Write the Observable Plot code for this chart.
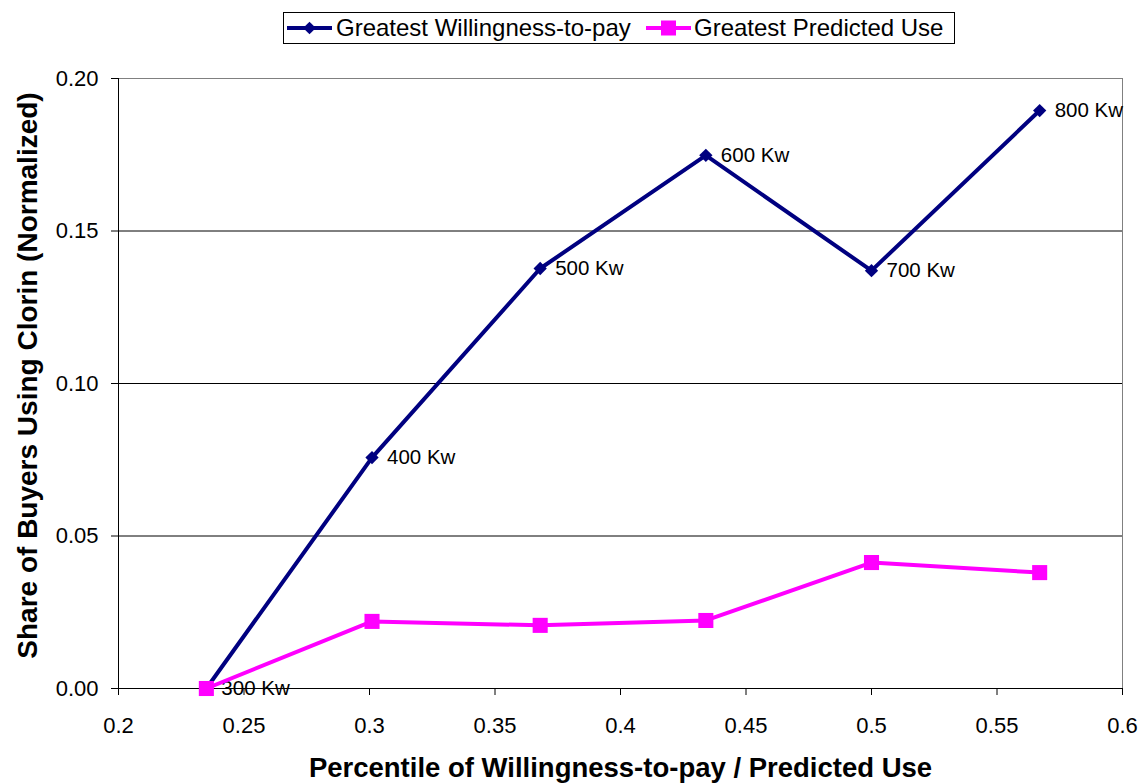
<!DOCTYPE html>
<html><head><meta charset="utf-8">
<script src="https://cdn.jsdelivr.net/npm/d3@7"></script>
<script src="https://cdn.jsdelivr.net/npm/@observablehq/plot@0.6"></script>
<style>
body{margin:0;background:#fff;font-family:"Liberation Sans",Arial,sans-serif;}
#legend{height:47px;position:relative;}
#legend .box{position:absolute;left:283px;top:12px;width:672px;height:32px;border:1px solid #000;box-sizing:border-box;font-size:24px;color:#000;white-space:nowrap;}
#legend .sw{position:absolute;top:3px;}
#legend .lab{position:absolute;top:0px;line-height:30px;}
</style></head>
<body>
<div id="legend"></div>
<div id="chart"></div>
<script>
const xVals = [0.235, 0.301, 0.368, 0.434, 0.5, 0.567];
const wtpVals = [0, 0.0757, 0.1377, 0.1748, 0.137, 0.1895];
const useVals = [0, 0.022, 0.0207, 0.0223, 0.0413, 0.038];
const kwLabels = ["300 Kw", "400 Kw", "500 Kw", "600 Kw", "700 Kw", "800 Kw"];
const seriesNames = ["Greatest Willingness-to-pay", "Greatest Predicted Use"];
const seriesColors = ["#000080", "#ff00ff"];
const xTicks = [0.2, 0.25, 0.3, 0.35, 0.4, 0.45, 0.5, 0.55, 0.6];
const yTicks = [0, 0.05, 0.1, 0.15, 0.2];
const xTitle = ["Percentile of Willingness-to-pay / Predicted Use"];
const yTitle = ["Share of Buyers Using Clorin (Normalized)"];

const dW = xVals.map((x, i) => ({x, y: wtpVals[i], label: kwLabels[i]}));
const dU = xVals.map((x, i) => ({x, y: useVals[i]}));

// legend
const box = document.createElement("div");
box.className = "box";
const swLeft = [3, 362], labLeft = [52, 410];
seriesNames.forEach((name, i) => {
  const marker = i === 0
    ? `<rect x="18" y="7.5" width="9" height="9" fill="${seriesColors[0]}" transform="rotate(45 22.5 12)"/>`
    : `<rect x="15" y="4.5" width="15" height="15" fill="${seriesColors[1]}"/>`;
  const sw = document.createElement("div");
  sw.className = "sw";
  sw.style.left = swLeft[i] + "px";
  sw.innerHTML = `<svg width="45" height="24"><line x1="0" x2="45" y1="12" y2="12" stroke="${seriesColors[i]}" stroke-width="4"/>${marker}</svg>`;
  const lab = document.createElement("div");
  lab.className = "lab";
  lab.style.left = labLeft[i] + "px";
  lab.textContent = name;
  box.appendChild(sw);
  box.appendChild(lab);
});
document.getElementById("legend").appendChild(box);

const chart = Plot.plot({
  width: 1141, height: 736,
  marginLeft: 118, marginRight: 19, marginTop: 31, marginBottom: 95,
  style: {fontFamily: "'Liberation Sans', Arial, sans-serif", fontSize: "22px", color: "#000", background: "#fff", overflow: "visible"},
  x: {domain: [0.2, 0.6]},
  y: {domain: [0, 0.2]},
  marks: [
    Plot.ruleY(yTicks.slice(1, 4), {stroke: "#000", strokeWidth: 1}),
    Plot.ruleY([0.2], {stroke: "#808080", strokeWidth: 1}),
    Plot.ruleX([0.6], {stroke: "#808080", strokeWidth: 1}),
    Plot.axisX({ticks: xTicks, tickFormat: d => String(d), tickSize: 7, tickPadding: 22, fontSize: 22, label: null}),
    Plot.axisY({ticks: yTicks, tickFormat: d => d.toFixed(2), tickSize: 7, tickPadding: 13, fontSize: 22, label: null}),
    Plot.ruleX([0.2], {stroke: "#000"}),
    Plot.ruleY([0], {stroke: "#000"}),
    Plot.text(xTitle, {text: d => d, frameAnchor: "bottom", lineAnchor: "middle", textAnchor: "middle", dy: 80, fontSize: 27.5, fontWeight: "bold", fill: "#000"}),
    Plot.text(yTitle, {text: d => d, frameAnchor: "left", rotate: -90, textAnchor: "middle", lineAnchor: "middle", dx: -90, dy: -8, fontSize: 28, fontWeight: "bold", fill: "#000"}),
    Plot.line(dW, {x: "x", y: "y", stroke: seriesColors[0], strokeWidth: 4}),
    Plot.dot(dW, {x: "x", y: "y", symbol: "square", rotate: 45, r: 5.3, fill: seriesColors[0]}),
    Plot.text(dW, {x: "x", y: "y", text: "label", dx: 15, textAnchor: "start", fontSize: 20.5, fill: "#000"}),
    Plot.line(dU, {x: "x", y: "y", stroke: seriesColors[1], strokeWidth: 4}),
    Plot.dot(dU, {x: "x", y: "y", symbol: "square", r: 8.5, fill: seriesColors[1]})
  ]
});
document.getElementById("chart").appendChild(chart);
</script>
</body></html>
